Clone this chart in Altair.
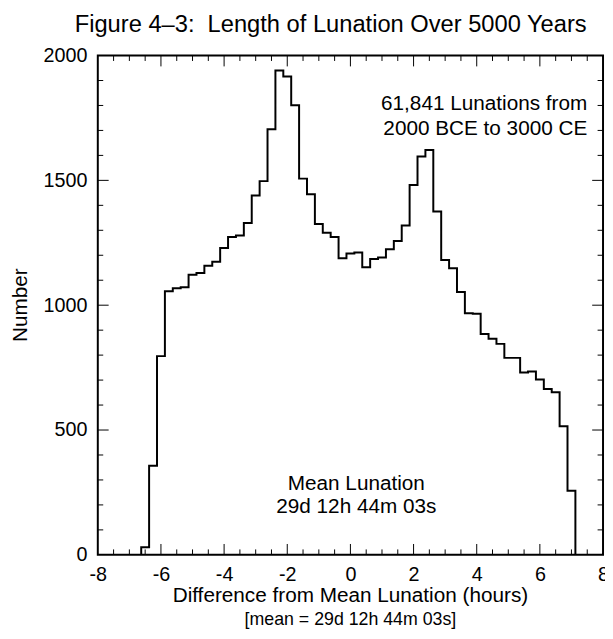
import altair as alt
import pandas as pd

# ---- data ----
bin_centers = [-6.5, -6.25, -6.0, -5.75, -5.5, -5.25, -5.0, -4.75, -4.5, -4.25,
               -4.0, -3.75, -3.5, -3.25, -3.0, -2.75, -2.5, -2.25, -2.0, -1.75,
               -1.5, -1.25, -1.0, -0.75, -0.5, -0.25, 0.0, 0.25, 0.5, 0.75,
               1.0, 1.25, 1.5, 1.75, 2.0, 2.25, 2.5, 2.75, 3.0, 3.25,
               3.5, 3.75, 4.0, 4.25, 4.5, 4.75, 5.0, 5.25, 5.5, 5.75,
               6.0, 6.25, 6.5, 6.75, 7.0]
counts = [30, 357, 796, 1056, 1068, 1072, 1122, 1129, 1158, 1174,
          1229, 1273, 1279, 1329, 1439, 1497, 1705, 1940, 1916, 1801,
          1507, 1444, 1325, 1290, 1273, 1188, 1207, 1211, 1152, 1185,
          1191, 1224, 1257, 1319, 1481, 1596, 1622, 1375, 1181, 1148,
          1053, 968, 966, 885, 866, 845, 789, 789, 730, 734,
          702, 664, 651, 515, 257]
bin_width = 0.25

x_labels = [-8, -6, -4, -2, 0, 2, 4, 6, 8]
y_labels = [0, 500, 1000, 1500, 2000]
x_major_ticks = [-6, -4, -2, 0, 2, 4, 6]
x_minor_ticks = [-7.5, -7, -6.5, -5.5, -5, -4.5, -3.5, -3, -2.5, -1.5, -1, -0.5,
                 0.5, 1, 1.5, 2.5, 3, 3.5, 4.5, 5, 5.5, 6.5, 7, 7.5]
y_major_ticks = [500, 1000, 1500]
y_minor_ticks = [100, 200, 300, 400, 600, 700, 800, 900, 1100, 1200, 1300, 1400,
                 1600, 1700, 1800, 1900]

title_text = "Figure 4\u20133:\u00a0 Length of Lunation Over 5000 Years"
note_lines = ["61,841 Lunations from", "2000 BCE to 3000 CE"]
mean_lines = ["Mean Lunation", "29d 12h 44m 03s"]
x_title = "Difference from Mean Lunation (hours)"
x_subtitle = "[mean = 29d 12h 44m 03s]"
y_title = "Number"

W, H = 512, 506
FONT = "Liberation Sans"

# step outline: start at baseline, each bin's left edge, close at last right edge
xs = [bin_centers[0] - bin_width / 2]
ys = [0]
for c, n in zip(bin_centers, counts):
    xs.append(c - bin_width / 2)
    ys.append(n)
xs.append(bin_centers[-1] + bin_width / 2)
ys.append(0)
step_df = pd.DataFrame({"x": xs, "y": ys})

xscale = alt.Scale(domain=[-8, 8], nice=False, zero=False)
yscale = alt.Scale(domain=[0, 2000], nice=False)

base_axes = alt.Chart(pd.DataFrame({"x": [0], "y": [0]})).mark_point(opacity=0).encode(
    x=alt.X("x:Q", scale=xscale,
            axis=alt.Axis(values=x_labels, ticks=False, domain=False, grid=False,
                          title=None, labelFontSize=20, labelFont=FONT,
                          labelColor="black", labelPadding=10, labelFlush=False,
                          labelExpr="datum.value + ''")),
    y=alt.Y("y:Q", scale=yscale,
            axis=alt.Axis(values=y_labels, ticks=False, domain=False, grid=False,
                          title=None, labelFontSize=20, labelFont=FONT,
                          labelColor="black", labelPadding=11,
                          labelExpr="datum.value + ''")),
)

step = alt.Chart(step_df).mark_line(interpolate="step-after", color="black",
                                    strokeWidth=2).encode(
    x=alt.X("x:Q", scale=xscale), y=alt.Y("y:Q", scale=yscale))


def xticks(vals, length):
    d = pd.DataFrame({"t": vals})
    bottom = alt.Chart(d).mark_rule(color="black", strokeWidth=1).encode(
        x=alt.X("t:Q", scale=xscale), y=alt.value(H), y2=alt.value(H - length))
    top = alt.Chart(d).mark_rule(color="black", strokeWidth=1).encode(
        x=alt.X("t:Q", scale=xscale), y=alt.value(0), y2=alt.value(length))
    return [bottom, top]


def yticks(vals, length):
    d = pd.DataFrame({"t": vals})
    left = alt.Chart(d).mark_rule(color="black", strokeWidth=1).encode(
        y=alt.Y("t:Q", scale=yscale), x=alt.value(0), x2=alt.value(length))
    right = alt.Chart(d).mark_rule(color="black", strokeWidth=1).encode(
        y=alt.Y("t:Q", scale=yscale), x=alt.value(W), x2=alt.value(W - length))
    return [left, right]


def text(s, x, y, size=21, align="center", angle=None):
    kw = dict(text=s, fontSize=size, font=FONT, color="black", align=align,
              baseline="middle")
    if angle is not None:
        kw["angle"] = angle
    return alt.Chart(pd.DataFrame({"a": [0]})).mark_text(**kw).encode(
        x=alt.value(x), y=alt.value(y))


layers = [base_axes, step]
layers += xticks(x_major_ticks, 11) + xticks(x_minor_ticks, 5.5)
layers += yticks(y_major_ticks, 11) + yticks(y_minor_ticks, 5.5)
layers += [
    text(title_text, 236, -31, size=24),
    text(note_lines[0], 496, 49, align="right"),
    text(note_lines[1], 496, 75, align="right"),
    text(mean_lines[0], 262, 434),
    text(mean_lines[1], 262, 458),
    text(x_title, W / 2, H + 42),
    text(x_subtitle, W / 2, H + 66, size=18),
    text(y_title, -78, H / 2, angle=270),
]

chart = alt.layer(*layers).properties(
    width=W, height=H,
    autosize=alt.AutoSizeParams(type="none"),
    padding={"left": 91, "top": 44, "right": 2, "bottom": 73},
).configure_view(stroke="black", strokeWidth=2)

chart.save("out.html", embed_options={"renderer": "svg", "actions": False})
